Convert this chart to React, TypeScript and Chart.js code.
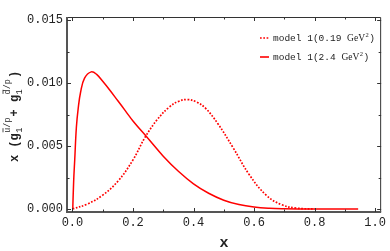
import React, { useEffect, useRef } from "react";
import { Chart, registerables } from "chart.js";

Chart.register(...registerables);

// ---- data ----
const solidX = [0.001, 0.004, 0.0075, 0.013, 0.019, 0.027, 0.04, 0.062, 0.08, 0.1, 0.125, 0.15, 0.175, 0.2, 0.25, 0.3, 0.35, 0.4, 0.45, 0.5, 0.55, 0.6, 0.65, 0.7, 0.75, 0.944];
const solidY = [0, 0.0022, 0.0039, 0.0065, 0.008, 0.0093, 0.0104, 0.0109, 0.0107, 0.01015, 0.0094, 0.0086, 0.0078, 0.007, 0.0056, 0.0042, 0.003, 0.002, 0.00125, 0.0007, 0.00035, 0.00015, 0.00005, 0.00001, 0, 0];
const dottedX = [0, 0.05, 0.1, 0.15, 0.2, 0.24, 0.28, 0.32, 0.35, 0.38, 0.41, 0.44, 0.48, 0.53, 0.585, 0.64, 0.69, 0.74, 0.8];
const dottedY = [0, 0.0004, 0.0011, 0.0022, 0.0039, 0.0057, 0.0071, 0.0081, 0.00855, 0.0087, 0.0085, 0.008, 0.0068, 0.0049, 0.0027, 0.0011, 0.00035, 0.00007, 0];
const seriesLabels = ["model 1(0.19 GeV²)", "model 1(2.4 GeV²)"];
const xTickValues = [0, 0.2, 0.4, 0.6, 0.8, 1.0];
const xMinorTicks = [0.1, 0.3, 0.5, 0.7, 0.9];
const yTickValues = [0, 0.005, 0.01, 0.015];
const yMinorTicks = [0.0025, 0.0075, 0.0125];
const xTitle = "x";

const RED = "rgb(255,0,0)";
const MONO = '"Liberation Mono", "DejaVu Sans Mono", monospace';

function drawLegendLabel(ctx: CanvasRenderingContext2D, text: string, x: number, y: number) {
  const m = text.match(/^(.*?)(GeV)²(.*)$/);
  ctx.fillStyle = "#222";
  ctx.textBaseline = "alphabetic";
  ctx.textAlign = "left";
  if (!m) {
    ctx.font = `9.5px ${MONO}`;
    ctx.fillText(text, x, y);
    return;
  }
  ctx.font = `9.5px ${MONO}`;
  ctx.fillText(m[1], x, y);
  x += ctx.measureText(m[1]).width;
  ctx.font = `9.5px "Liberation Serif", serif`;
  ctx.fillText(m[2], x, y);
  x += ctx.measureText(m[2]).width + 0.5;
  ctx.font = `6.5px "Liberation Serif", serif`;
  ctx.fillText("2", x, y - 4);
  x += ctx.measureText("2").width + 0.5;
  ctx.font = `9.5px ${MONO}`;
  ctx.fillText(m[3], x, y);
}

function drawYTitle(ctx: CanvasRenderingContext2D, cx: number, cy: number) {
  const main = `bold 12px ${MONO}`;
  const small = `8.5px ${MONO}`;
  type Part = { t: string; kind: "main" } | { sup: string; bar: string; sub: string; kind: "stack" };
  const parts: Part[] = [
    { t: "x (g", kind: "main" },
    { sup: "u/p", bar: "u", sub: "1", kind: "stack" },
    { t: "+ g", kind: "main" },
    { sup: "d/p", bar: "d", sub: "1", kind: "stack" },
    { t: ")", kind: "main" },
  ];
  const widths = parts.map((p) => {
    if (p.kind === "main") {
      ctx.font = main;
      return ctx.measureText(p.t).width;
    }
    ctx.font = small;
    return Math.max(ctx.measureText(p.sup).width, ctx.measureText(p.sub).width) + 1.5;
  });
  const total = widths.reduce((a, b) => a + b, 0);
  ctx.save();
  ctx.translate(cx, cy);
  ctx.rotate(-Math.PI / 2);
  ctx.fillStyle = "#222";
  ctx.strokeStyle = "#222";
  ctx.textAlign = "left";
  ctx.textBaseline = "alphabetic";
  let x = -total / 2;
  parts.forEach((p, i) => {
    if (p.kind === "main") {
      ctx.font = main;
      ctx.fillText(p.t, x, 0);
    } else {
      ctx.font = small;
      ctx.fillText(p.sub, x + 0.5, 3.5);
      ctx.fillText(p.sup, x + 0.5, -8);
      const bw = ctx.measureText(p.bar).width;
      ctx.lineWidth = 0.8;
      ctx.beginPath();
      ctx.moveTo(x + 1, -15);
      ctx.lineTo(x + bw, -15);
      ctx.stroke();
    }
    x += widths[i];
  });
  ctx.restore();
}

const framePlugin = {
  id: "framePlugin",
  afterDraw(chart: any) {
    const ctx: CanvasRenderingContext2D = chart.ctx;
    const { left, right, top, bottom } = chart.chartArea;
    const xs = chart.scales.x;
    const ys = chart.scales.y;
    ctx.save();
    ctx.strokeStyle = "#333";
    ctx.lineWidth = 1;
    ctx.beginPath();
    ctx.moveTo(left, top + 0.5);
    ctx.lineTo(right - 0.5, top + 0.5);
    ctx.lineTo(right - 0.5, bottom);
    ctx.stroke();
    ctx.strokeStyle = "#555";
    ctx.lineWidth = 2;
    ctx.beginPath();
    ctx.moveTo(left, top);
    ctx.lineTo(left, bottom);
    ctx.lineTo(right, bottom);
    ctx.stroke();
    ctx.strokeStyle = "#333";
    ctx.lineWidth = 1;
    const xt = (vals: number[], len: number) => {
      vals.forEach((v) => {
        const px = Math.round(xs.getPixelForValue(v)) + 0.5;
        ctx.beginPath();
        ctx.moveTo(px, bottom);
        ctx.lineTo(px, bottom - len);
        ctx.moveTo(px, top);
        ctx.lineTo(px, top + len);
        ctx.stroke();
      });
    };
    const yt = (vals: number[], len: number) => {
      vals.forEach((v) => {
        const py = Math.round(ys.getPixelForValue(v)) + 0.5;
        ctx.beginPath();
        ctx.moveTo(left, py);
        ctx.lineTo(left + len, py);
        ctx.moveTo(right, py);
        ctx.lineTo(right - len, py);
        ctx.stroke();
      });
    };
    xt(xTickValues, 4);
    xt(xMinorTicks, 2.5);
    yt(yTickValues, 4);
    yt(yMinorTicks, 2.5);

    const rows = [38, 57];
    chart.data.datasets.forEach((ds: any, i: number) => {
      const y = rows[i];
      ctx.strokeStyle = RED;
      ctx.lineWidth = 1.6;
      ctx.setLineDash(ds.borderDash || []);
      ctx.beginPath();
      ctx.moveTo(260, y);
      ctx.lineTo(269, y);
      ctx.stroke();
      ctx.setLineDash([]);
      drawLegendLabel(ctx, ds.label, 273, y + 3);
    });

    ctx.fillStyle = "#222";
    ctx.font = `bold 15px ${MONO}`;
    ctx.textAlign = "center";
    ctx.textBaseline = "alphabetic";
    ctx.fillText(xTitle, (left + right) / 2, 247);
    drawYTitle(ctx, 18, (top + bottom) / 2 + 2);
    ctx.restore();
  },
};

export default function App() {
  const ref = useRef<HTMLCanvasElement | null>(null);
  useEffect(() => {
    if (!ref.current) return;
    const chart = new Chart(ref.current, {
      type: "line",
      data: {
        datasets: [
          {
            label: seriesLabels[0],
            data: dottedX.map((x, i) => ({ x, y: dottedY[i] })),
            borderColor: RED,
            borderWidth: 1.7,
            borderDash: [1.7, 1.6],
            pointRadius: 0,
            fill: false,
            tension: 0.4,
          },
          {
            label: seriesLabels[1],
            data: solidX.map((x, i) => ({ x, y: solidY[i] })),
            borderColor: RED,
            borderWidth: 1.5,
            pointRadius: 0,
            fill: false,
            tension: 0.4,
          },
        ],
      },
      options: {
        animation: false,
        responsive: false,
        events: [],
        layout: { padding: { top: 17, right: 5, left: 0, bottom: 0 } },
        plugins: { legend: { display: false }, tooltip: { enabled: false }, title: { display: false } },
        scales: {
          x: {
            type: "linear",
            min: -0.018,
            max: 1.02,
            grid: { display: false, drawTicks: false },
            border: { display: false },
            afterBuildTicks: (s: any) => {
              s.ticks = xTickValues.map((v) => ({ value: v }));
            },
            afterFit: (s: any) => {
              s.height = 39;
            },
            ticks: {
              padding: 4,
              color: "#222",
              font: { family: MONO, size: 12 },
              maxRotation: 0,
              autoSkip: false,
              callback: (v: any) => Number(v).toFixed(1),
            },
          },
          y: {
            type: "linear",
            min: -0.00024,
            max: 0.01526,
            grid: { display: false, drawTicks: false },
            border: { display: false },
            afterBuildTicks: (s: any) => {
              s.ticks = yTickValues.map((v) => ({ value: v }));
            },
            afterFit: (s: any) => {
              s.width = 67;
            },
            ticks: {
              padding: 4,
              color: "#222",
              font: { family: MONO, size: 12 },
              autoSkip: false,
              callback: (v: any) => Number(v).toFixed(3),
            },
          },
        },
      },
      plugins: [framePlugin],
    });
    return () => chart.destroy();
  }, []);
  return (
    <div style={{ position: "absolute", left: 0, top: 0, width: 390, height: 251, background: "#fff" }}>
      <canvas ref={ref} width={390} height={251} style={{ display: "block" }} />
    </div>
  );
}
